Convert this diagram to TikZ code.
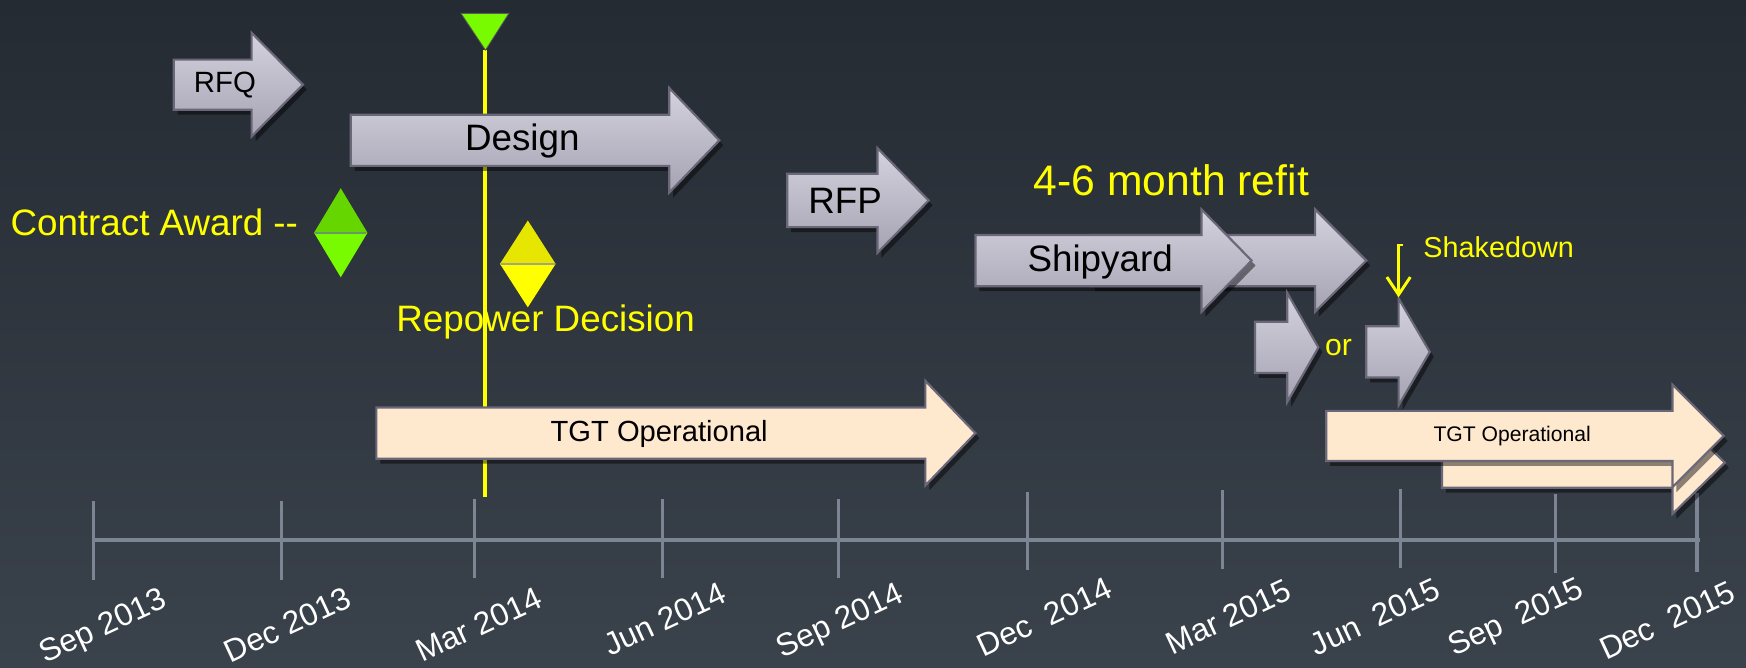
\documentclass[tikz,border=0pt]{standalone}
\usepackage{fontspec}
\setmainfont{Liberation Sans}
\usepackage{xcolor}
\usepackage{tikz}
\usetikzlibrary{shadows,arrows.meta}

\definecolor{bgtop}{RGB}{37,43,51}
\definecolor{bgbottom}{RGB}{58,66,75}
\definecolor{barlight}{RGB}{212,210,222}
\definecolor{bardark}{RGB}{165,163,178}
\definecolor{baredge}{RGB}{105,103,120}
\definecolor{peach}{RGB}{254,232,206}
\definecolor{axisgray}{RGB}{124,133,148}
\definecolor{milegreen}{RGB}{120,250,0}
\definecolor{milegreendark}{RGB}{102,214,0}
\definecolor{mileyellow}{RGB}{255,255,0}
\definecolor{mileyellowdark}{RGB}{230,230,0}

\begin{document}
\begin{tikzpicture}[x=0.02cm, y=-0.02cm,
  boxshadow/.style={drop shadow={shadow xshift=2pt, shadow yshift=-2.5pt, opacity=0.45, fill=black}},
  grayarrow/.style={draw=baredge, line width=1.1pt, top color=barlight, bottom color=bardark, boxshadow},
  peacharrow/.style={draw=baredge, line width=1.1pt, fill=peach, boxshadow},
  axisline/.style={draw=axisgray, line width=1.7pt},
  marker/.style={draw=gray!70!black, line width=0.4pt},
  bartext/.style={inner sep=0pt, font=\fontsize{18.8}{22}\selectfont},
  rfqtext/.style={inner sep=0pt, font=\fontsize{15}{18}\selectfont},
  optext/.style={inner sep=0pt, font=\fontsize{14.9}{18}\selectfont},
  optextsmall/.style={inner sep=0pt, font=\fontsize{10.8}{13}\selectfont},
  note/.style={inner sep=0pt, text=mileyellow, font=\fontsize{18.8}{22}\selectfont},
  datelabel/.style={inner sep=0pt, text=white, rotate=25, font=\fontsize{16.2}{19}\selectfont}
]
\useasboundingbox (0, 0) rectangle (1568, 599);
\fill[top color=bgtop, bottom color=bgbottom] (0, 0) rectangle (1568, 599);

\draw[axisline] (84, 485) -- (1527, 485);
\draw[axisline] (84, 450) -- (84, 521);
\draw[axisline] (253, 450) -- (253, 521);
\draw[axisline] (426, 448) -- (426, 519);
\draw[axisline] (595, 448) -- (595, 519);
\draw[axisline] (753, 448) -- (753, 519);
\draw[axisline] (923, 442) -- (923, 512);
\draw[axisline] (1098, 440) -- (1098, 511);
\draw[axisline] (1258, 439) -- (1258, 510);
\draw[axisline] (1397, 444) -- (1397, 515);
\draw[axisline] (1524, 443) -- (1524, 514);

\node[datelabel] (septhirteen) at (93, 564) {Sep 2013};
\node[datelabel] (decthirteen) at (258, 561) {Dec 2013};
\node[datelabel] (marfourteen) at (430, 561) {Mar 2014};
\node[datelabel] (junfourteen) at (597, 556) {Jun 2014};
\node[datelabel] (sepfourteen) at (755, 559) {Sep 2014};
\node[datelabel] (decfourteen) at (938, 554) {Dec~~2014};
\node[datelabel] (marfifteen) at (1103, 554) {Mar 2015};
\node[datelabel] (junfifteen) at (1235, 554) {Jun~~2015};
\node[datelabel] (sepfifteen) at (1362, 556) {Sep~~2015};
\node[datelabel] (decfifteen) at (1497, 557) {Dec~~2015};

\draw[mileyellow, line width=1.9pt] (435.5, 45) -- (435.5, 446);
\fill[milegreen, marker] (414, 12) -- (457, 12) -- (436, 45) -- cycle;

\draw[grayarrow] (156, 53.5) -- (226, 53.5) -- (226, 29.5) -- (272, 76) -- (226, 122.5) -- (226, 98.5) -- (156, 98.5) -- cycle;
\node[rfqtext] (rfq) at (202, 76) {RFQ};

\draw[grayarrow] (315, 103) -- (601, 103) -- (601, 79) -- (646, 126) -- (601, 173) -- (601, 149) -- (315, 149) -- cycle;
\node[bartext] (design) at (469, 127) {Design};

\node[note, anchor=east] (award) at (268, 200) {Contract Award -{}-};
\fill[milegreendark] (282, 209) -- (306, 169) -- (330, 209) -- cycle;
\fill[milegreen] (282, 209) -- (330, 209) -- (306, 249) -- cycle;
\draw[gray!80!green, line width=1pt] (283, 209) -- (329, 209);

\fill[mileyellowdark] (449, 237) -- (474, 198) -- (499, 237) -- cycle;
\fill[mileyellow] (449, 237) -- (499, 237) -- (474, 276) -- cycle;
\draw[gray!80!yellow, line width=1pt] (450, 237) -- (498, 237);
\node[note] (repower) at (490, 289) {Repower Decision};

\draw[grayarrow] (707, 156) -- (788, 156) -- (788, 133) -- (834, 180) -- (788, 227) -- (788, 204) -- (707, 204) -- cycle;
\node[bartext] (rfp) at (759, 180) {RFP};

\node[note, font=\fontsize{21.8}{26}\selectfont] (refit) at (1052, 162) {4-6 month refit};

\draw[grayarrow] (980, 211) -- (1181, 211) -- (1181, 188) -- (1227, 234) -- (1181, 280) -- (1181, 257) -- (980, 257) -- cycle;
\draw[grayarrow] (876, 211) -- (1079, 211) -- (1079, 188) -- (1124, 234) -- (1079, 280) -- (1079, 257) -- (876, 257) -- cycle;
\node[bartext] (shipyard) at (988, 235) {Shipyard};

\draw[grayarrow] (1127, 289) -- (1156, 289) -- (1156, 263) -- (1184, 312) -- (1156, 361) -- (1156, 335) -- (1127, 335) -- cycle;
\node[note, font=\fontsize{15.4}{18}\selectfont] (or) at (1202, 312) {or};
\draw[grayarrow] (1227, 293) -- (1256, 293) -- (1256, 268) -- (1284, 316) -- (1256, 364) -- (1256, 339) -- (1227, 339) -- cycle;

\node[note, anchor=west, font=\fontsize{14.7}{18}\selectfont] (shakedown) at (1278, 222) {Shakedown};
\coordinate (shakefrom) at (1260, 220);
\coordinate (shakebend) at (1256, 220);
\coordinate (shaketo) at (1256, 267);
\draw[mileyellow, line width=1.5pt, -{Straight Barb[length=9pt, width=12pt]}] (shakefrom) -- (shakebend) -- (shaketo);

\draw[peacharrow] (338, 366) -- (831, 366) -- (831, 342) -- (876, 389) -- (831, 436) -- (831, 412) -- (338, 412) -- cycle;
\node[optext] (tgtone) at (592, 390) {TGT Operational};

\draw[peacharrow] (1295, 393) -- (1502, 393) -- (1502, 369.5) -- (1549, 415.5) -- (1502, 461.5) -- (1502, 438) -- (1295, 438) -- cycle;
\draw[peacharrow] (1191, 369) -- (1502, 369) -- (1502, 345.5) -- (1548, 391.5) -- (1502, 437.5) -- (1502, 414) -- (1191, 414) -- cycle;
\node[optextsmall] (tgttwo) at (1358, 392) {TGT Operational};
\end{tikzpicture}
\end{document}
